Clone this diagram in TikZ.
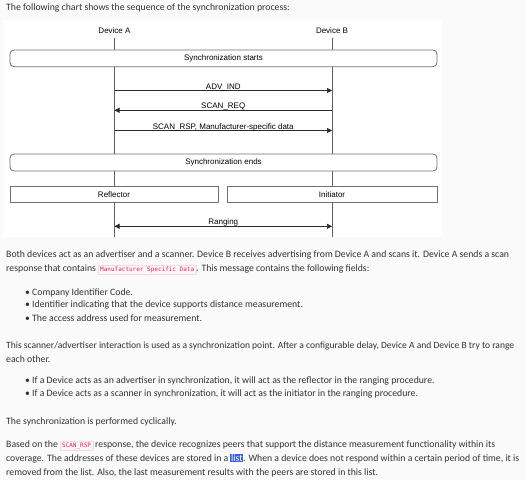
\documentclass[tikz,border=0pt]{standalone}
\usepackage{fontspec}
\setmainfont{Carlito}
\setsansfont{Liberation Sans}
\setmonofont{DejaVu Sans Mono}
\usepackage{xcolor}
\usetikzlibrary{arrows.meta}
\definecolor{pagebg}{HTML}{FAFAFA}
\definecolor{bodytext}{HTML}{333333}
\definecolor{lifegray}{HTML}{5E5E5E}
\definecolor{boxgray}{HTML}{707070}
\definecolor{msgblack}{HTML}{2A2A2A}
\definecolor{codered}{HTML}{E0245E}
\definecolor{codebg}{HTML}{FDF5F7}
\definecolor{codeborder}{HTML}{E9DFE2}
\definecolor{selblue}{HTML}{3B62D2}
\newcommand{\inlinecode}[1]{{\setlength{\fboxsep}{1.6pt}\setlength{\fboxrule}{0.4pt}%
\fcolorbox{codeborder}{codebg}{\textcolor{codered}{\ttfamily\fontsize{6}{6}\selectfont #1}}}}
\newcommand{\marked}[1]{{\setlength{\fboxsep}{0.6pt}\colorbox{selblue}{\textcolor{white}{#1}}}}
\newcommand{\listitem}[3]{%
\node[dot] (#2dot) at (25,#1) {\textbullet};
\node[para] (#2) at (32,#1) {#3};
}
\tikzstyle{devlabel} = [font=\sffamily\fontsize{8}{9}\selectfont, text=black, inner sep=0pt]
\tikzstyle{lifeline} = [draw=lifegray, line width=0.7pt]
\tikzstyle{phase} = [draw=boxgray, fill=white, line width=0.8pt, rounded corners=4pt,
inner sep=0pt, minimum width=427pt, minimum height=16.7pt, font=\sffamily\fontsize{8}{9}\selectfont]
\tikzstyle{role} = [phase, rounded corners=0pt]
\tikzstyle{msg} = [draw=msgblack, line width=0.6pt, -{Triangle[length=5pt,width=5pt]}]
\tikzstyle{twoway} = [msg, {Triangle[length=5pt,width=5pt]}-{Triangle[length=5pt,width=5pt]}]
\tikzstyle{msglabel} = [font=\sffamily\fontsize{8}{9}\selectfont, anchor=base, inner sep=0pt, yshift=1.5pt]
\tikzstyle{para} = [anchor=base west, inner sep=0pt, text=bodytext, font=\fontsize{9.75}{11}\selectfont]
\tikzstyle{dot} = [para]

\begin{document}
\begin{tikzpicture}[x=1pt, y=-1pt]
    \fill[pagebg] (0,0) rectangle (526,480);
    \useasboundingbox (0,0) rectangle (526,480);
    \fill[white] (3,20) rectangle (442,237);

    \node[para] (intro) at (6,10) {The following chart shows the sequence of the synchronization process:};

    % sequence chart
    \node[devlabel] (devA) at (114.5,30.5) {Device A};
    \node[devlabel] (devB) at (332,30.5) {Device B};
    \coordinate (endA) at (114.5,237);
    \coordinate (endB) at (332,237);
    \draw[lifeline] ([yshift=-4pt]devA.south) -- (endA);
    \draw[lifeline] ([yshift=-4pt]devB.south) -- (endB);

    \node[phase] (syncstart) at (223.5,58.3) {Synchronization starts};

    \coordinate (advA) at (114.5,90.5);
    \coordinate (advB) at (332,90.5);
    \coordinate (reqA) at (114.5,110.3);
    \coordinate (reqB) at (332,110.3);
    \coordinate (rspA) at (114.5,130.5);
    \coordinate (rspB) at (332,130.5);
    \draw[msg] (advA) -- node[msglabel] {ADV\_IND} (advB);
    \draw[msg] (reqB) -- node[msglabel] {SCAN\_REQ} (reqA);
    \draw[msg] (rspA) -- node[msglabel] {SCAN\_RSP, Manufacturer-specific data} (rspB);

    \node[phase, minimum height=17pt] (syncend) at (223.5,162.5) {Synchronization ends};

    \node[role, minimum width=208pt] (reflector) at (114,194.4) {Reflector};
    \node[role, minimum width=210pt] (initiator) at (332,194.4) {Initiator};

    \coordinate (rngA) at (114.5,226.3);
    \coordinate (rngB) at (332,226.3);
    \draw[twoway] (rngA) -- node[msglabel] {Ranging} (rngB);

    % description
    \node[para] (both) at (6,257) {Both devices act as an advertiser and a scanner. Device B receives advertising from Device A and scans it. Device A sends a scan};
    \node[para] (resp) at (6,271.5) {response that contains \inlinecode{Manufacturer Specific Data}. This message contains the following fields:};
    \listitem{295}{company}{Company Identifier Code.}
    \listitem{307.7}{ident}{Identifier indicating that the device supports distance measurement.}
    \listitem{321.5}{access}{The access address used for measurement.}

    \node[para, font=\fontsize{9.55}{11}\selectfont] (point) at (6,348) {This scanner/advertiser interaction is used as a synchronization point. After a configurable delay, Device A and Device B try to range};
    \node[para] (other) at (6,362) {each other.};
    \listitem{383.7}{advert}{If a Device acts as an advertiser in synchronization, it will act as the reflector in the ranging procedure.}
    \listitem{396.7}{scanner}{If a Device acts as a scanner in synchronization, it will act as the initiator in the ranging procedure.}

    \node[para] (cyclic) at (6,424) {The synchronization is performed cyclically.};

    \node[para] (based) at (6,447) {Based on the \inlinecode{SCAN\_RSP} response, the device recognizes peers that support the distance measurement functionality within its};
    \node[para] (cover) at (6,461.3) {coverage. The addresses of these devices are stored in a \marked{list}. When a device does not respond within a certain period of time, it is};
    \node[para] (removed) at (6,475.3) {removed from the list. Also, the last measurement results with the peers are stored in this list.};
\end{tikzpicture}
\end{document}
